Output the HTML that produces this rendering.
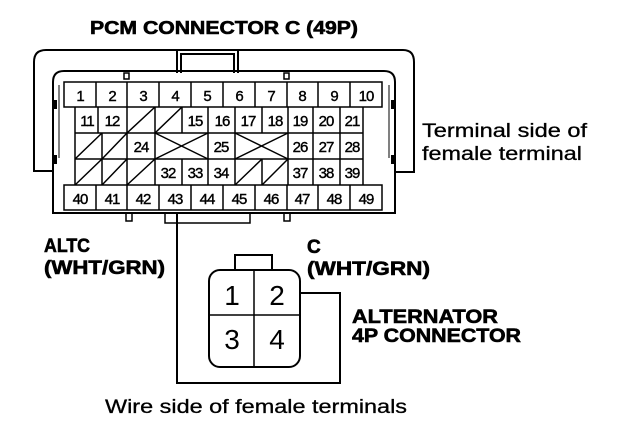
<!DOCTYPE html>
<html><head><style>
html,body{margin:0;padding:0;background:#fff;}
svg{display:block;}
text{font-family:"Liberation Sans",sans-serif;fill:#000;}
.b{font-weight:bold;stroke:#000;stroke-width:0.6px;}
.n{font-size:15px;text-anchor:middle;letter-spacing:-1px;stroke:#000;stroke-width:0.4px;}
</style></head><body>
<svg width="624" height="434" viewBox="0 0 624 434" xmlns="http://www.w3.org/2000/svg">
<g fill="none" stroke="#000" stroke-width="2">
<path d="M53,171 H34 V62 Q34,50 46,50 H403 Q414,50 414,62 V172 H395"/>
<path d="M177,73 V50 M238,73 V50 M181,73 V54 H234 V73"/>
<path d="M53,213 V82 Q53,71 64,71 H384 Q395,71 395,82 V213 Z"/>
<path d="M59,85 V158 M389,85 V158" stroke-width="1"/>
<rect x="124" y="73" width="5" height="6" stroke-width="1.5"/>
<rect x="284" y="73" width="5" height="6" stroke-width="1.5"/>
<path d="M126,213 V221 H132 V213 M284,213 V221 H290 V213" stroke-width="1.5"/>
<path d="M165,213 V223 H250 V213" stroke-width="1.5"/>
</g>
<g fill="#000">
<rect x="53" y="100" width="4" height="9"/><rect x="53" y="155" width="4" height="9"/>
<rect x="391" y="100" width="4" height="9"/><rect x="391" y="155" width="4" height="9"/>
</g>
<g fill="none" stroke="#000" stroke-width="1.5">
<rect x="64" y="82" width="318" height="25"/>
<path d="M96,82V107M127,82V107M159,82V107M191,82V107M223,82V107M255,82V107M287,82V107M318,82V107M350,82V107"/>
<path d="M75,107 V185 M363,107 V185 M75,133 H363 M75,159 H363"/>
<path d="M98,107V133 M127,107V185 M155,107V133 M182,107V133 M208,107V133 M235,107V133 M262,107V133 M288,107V185 M313,107V185 M340,107V185"/>
<path d="M102,133V185 M155,133V185 M208,133V185 M235,133V185 M182,159V185 M262,159V185"/>
<path d="M127,133 L155,107 M155,133 L182,107 M75,159 L102,133 M102,159 L127,133 M75,185 L102,159 M102,185 L127,159 M127,185 L155,159 M235,185 L262,159 M262,185 L288,159"/>
<path d="M155,133 L208,159 M155,159 L208,133 M235,133 L288,159 M235,159 L288,133"/>
<rect x="64" y="185" width="318" height="25"/>
<path d="M96,185V210M127,185V210M159,185V210M191,185V210M223,185V210M255,185V210M287,185V210M318,185V210M350,185V210"/>
</g>
<g class="n">
<text x="80" y="101">1</text><text x="112" y="101">2</text><text x="143" y="101">3</text><text x="175" y="101">4</text><text x="207" y="101">5</text><text x="239" y="101">6</text><text x="271" y="101">7</text><text x="302" y="101">8</text><text x="334" y="101">9</text><text x="366" y="101">10</text>
<text x="87" y="126">11</text><text x="112" y="126">12</text><text x="195" y="126">15</text><text x="222" y="126">16</text><text x="248" y="126">17</text><text x="275" y="126">18</text><text x="300" y="126">19</text><text x="326" y="126">20</text><text x="352" y="126">21</text>
<text x="141" y="152">24</text><text x="221" y="152">25</text><text x="300" y="152">26</text><text x="326" y="152">27</text><text x="352" y="152">28</text>
<text x="168" y="178">32</text><text x="195" y="178">33</text><text x="221" y="178">34</text><text x="300" y="178">37</text><text x="326" y="178">38</text><text x="352" y="178">39</text>
<text x="80" y="204">40</text><text x="112" y="204">41</text><text x="143" y="204">42</text><text x="175" y="204">43</text><text x="207" y="204">44</text><text x="239" y="204">45</text><text x="271" y="204">46</text><text x="302" y="204">47</text><text x="334" y="204">48</text><text x="366" y="204">49</text>
</g>
<path d="M177,213 V383 H340 V293 H300" fill="none" stroke="#000" stroke-width="2"/>
<g fill="none" stroke="#000" stroke-width="2">
<rect x="235" y="255" width="37" height="15"/>
<rect x="209" y="270" width="91" height="97" rx="11"/>
<path d="M254,270 V367 M209,315 H300" stroke-width="1.5"/>
</g>
<g style="font-size:28px;font-weight:normal" text-anchor="middle">
<text x="232" y="305">1</text><text x="277" y="305">2</text><text x="232" y="349">3</text><text x="277" y="349">4</text>
</g>
<text class="b" x="90" y="34" style="font-size:18px" textLength="268" lengthAdjust="spacingAndGlyphs">PCM CONNECTOR C (49P)</text>
<text x="422" y="137" style="font-size:19px;stroke:#000;stroke-width:0.3px" textLength="165" lengthAdjust="spacingAndGlyphs">Terminal side of</text>
<text x="422" y="160" style="font-size:19px;stroke:#000;stroke-width:0.3px" textLength="160" lengthAdjust="spacingAndGlyphs">female terminal</text>
<text class="b" x="44" y="252" style="font-size:19px" textLength="46" lengthAdjust="spacingAndGlyphs">ALTC</text>
<text class="b" x="44" y="274" style="font-size:19px" textLength="121" lengthAdjust="spacingAndGlyphs">(WHT/GRN)</text>
<text class="b" x="307" y="253" style="font-size:19px">C</text>
<text class="b" x="307" y="275" style="font-size:19px" textLength="123" lengthAdjust="spacingAndGlyphs">(WHT/GRN)</text>
<text class="b" x="352" y="323" style="font-size:19px" textLength="146" lengthAdjust="spacingAndGlyphs">ALTERNATOR</text>
<text class="b" x="352" y="342" style="font-size:19px" textLength="169" lengthAdjust="spacingAndGlyphs">4P CONNECTOR</text>
<text x="105" y="413" style="font-size:19px;stroke:#000;stroke-width:0.3px" textLength="302" lengthAdjust="spacingAndGlyphs">Wire side of female terminals</text>
</svg>
</body></html>
